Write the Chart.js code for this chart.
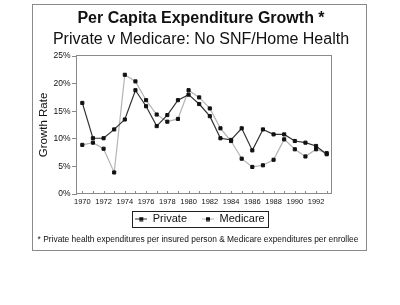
<!DOCTYPE html>
<html>
<head>
<meta charset="utf-8">
<script src="https://cdn.jsdelivr.net/npm/chart.js@4.4.1/dist/chart.umd.min.js"></script>
<style>
html, body { margin: 0; padding: 0; background: #fff; }
#chart { display: block; }
</style>
</head>
<body>
<canvas id="chart" width="400" height="305"></canvas>
<script>
// ===== DATOS =====
const years = ['1970', '1971', '1972', '1973', '1974', '1975', '1976', '1977', '1978', '1979', '1980', '1981',
               '1982', '1983', '1984', '1985', '1986', '1987', '1988', '1989', '1990', '1991', '1992', '1993'];
const privateGrowth = [16.5, 10.1, 10.1, 11.7, 13.5, 18.8, 15.9, 12.3, 14.3, 17.0, 18.0, 16.3,
                       14.1, 10.1, 9.8, 11.9, 7.9, 11.7, 10.8, 10.8, 9.6, 9.3, 8.7, 7.2];
const medicareGrowth = [8.9, 9.3, 8.2, 3.9, 21.6, 20.4, 17.0, 14.4, 13.1, 13.6, 18.8, 17.5,
                        15.5, 11.9, 9.6, 6.4, 4.9, 5.2, 6.2, 9.9, 8.1, 6.8, 8.1, 7.4];
const yTicks = [0, 5, 10, 15, 20, 25];

const titleText = 'Per Capita Expenditure Growth *';
const subtitleText = 'Private v Medicare: No SNF/Home Health';
const footnoteText = '* Private health expenditures per insured person & Medicare expenditures per enrollee';

const FONT = '"Liberation Sans", Arial, Helvetica, sans-serif';
const DARK = '#333333';
const LIGHT = '#b4b4b4';

// marcador de la leyenda: linea corta con cuadrado
function legendMarker(lineColor) {
    const c = document.createElement('canvas');
    c.width = 12; c.height = 5;
    const g = c.getContext('2d');
    g.strokeStyle = lineColor;
    g.lineWidth = 1;
    g.beginPath(); g.moveTo(0, 2.5); g.lineTo(12, 2.5); g.stroke();
    g.fillStyle = '#111';
    g.fillRect(4, 0.5, 4, 4);
    return c;
}
const markers = [legendMarker(DARK), legendMarker(LIGHT)];

// ===== PLUGIN: marco, titulos, nota =====
const decoPlugin = {
    id: 'deco',
    afterLayout(chart) {
        // mover la leyenda para que el texto quede centrado en y=219
        const lg = chart.legend;
        const d = lg.top + 15 + 5.5 - 219;
        lg.top -= d;
        lg.bottom -= d;
    },
    beforeDatasetsDraw(chart) {
        const { ctx, chartArea: a } = chart;
        ctx.save();
        ctx.strokeStyle = '#8a8a8a';
        ctx.lineWidth = 1;
        ctx.strokeRect(Math.round(a.left) - 0.5, Math.round(a.top) - 0.5,
                       Math.round(a.right - a.left), Math.round(a.bottom - a.top));
        // ticks del eje x hacia dentro
        const xs = chart.scales.x;
        ctx.beginPath();
        years.forEach((y, i) => {
            const px = Math.round(xs.getPixelForValue(i)) + 0.5;
            ctx.moveTo(px, a.bottom);
            ctx.lineTo(px, a.bottom - 3);
        });
        ctx.stroke();
        ctx.restore();
    },
    afterDraw(chart) {
        const { ctx } = chart;
        ctx.save();
        // marco exterior
        ctx.strokeStyle = '#8a8a8a';
        ctx.lineWidth = 1;
        ctx.strokeRect(32.5, 4.5, 334, 246);
        // titulos
        ctx.fillStyle = '#111';
        ctx.textAlign = 'center';
        ctx.textBaseline = 'alphabetic';
        ctx.font = 'bold 16px ' + FONT;
        ctx.fillText(titleText, 201, 22.5);
        ctx.font = '16px ' + FONT;
        ctx.fillText(subtitleText, 201, 43.5);
        // nota al pie
        ctx.font = '8.4px ' + FONT;
        ctx.fillText(footnoteText, 198, 242);
        // recuadro de la leyenda
        const hb = chart.legend.legendHitBoxes;
        if (hb && hb.length) {
            const l = Math.min(...hb.map(h => h.left)) - 3;
            const r = Math.max(...hb.map(h => h.left + h.width)) + 4;
            const t = Math.min(...hb.map(h => h.top)) - 2.5;
            const b = Math.max(...hb.map(h => h.top + h.height)) + 2.5;
            ctx.strokeStyle = '#222';
            ctx.strokeRect(Math.round(l) + 0.5, Math.round(t) + 0.5, Math.round(r - l), Math.round(b - t));
        }
        ctx.restore();
    }
};

// ===== CHART =====
const ctx = document.getElementById('chart').getContext('2d');
const chart = new Chart(ctx, {
    type: 'line',
    data: {
        labels: years,
        datasets: [
            { label: 'Private', data: privateGrowth, borderColor: DARK, borderWidth: 1.2,
              pointStyle: 'rect', pointRadius: 2.2, pointBorderWidth: 1,
              pointBackgroundColor: '#111', pointBorderColor: '#111', tension: 0 },
            { label: 'Medicare', data: medicareGrowth, borderColor: LIGHT, borderWidth: 1.2,
              pointStyle: 'rect', pointRadius: 2.2, pointBorderWidth: 1,
              pointBackgroundColor: '#111', pointBorderColor: '#111', tension: 0 }
        ]
    },
    options: {
        responsive: false,
        animation: false,
        layout: { padding: { left: 33, right: 33, top: 56, bottom: 60 } },
        plugins: {
            title: { display: false },
            tooltip: { enabled: false },
            legend: {
                position: 'bottom',
                labels: {
                    usePointStyle: true,
                    pointStyleWidth: 12,
                    padding: 15,
                    color: '#111',
                    font: { family: FONT, size: 11 },
                    generateLabels(ch) {
                        const items = Chart.defaults.plugins.legend.labels.generateLabels(ch);
                        items.forEach((it, i) => { it.pointStyle = markers[i]; });
                        return items;
                    }
                }
            }
        },
        scales: {
            x: {
                offset: true,
                grid: { display: false, drawTicks: false },
                border: { display: false },
                ticks: {
                    autoSkip: false,
                    maxRotation: 0,
                    padding: 3,
                    color: '#111',
                    font: { family: FONT, size: 7.5 },
                    callback: (v, i) => (i % 2 === 0 ? years[i] : '')
                }
            },
            y: {
                min: yTicks[0],
                max: yTicks[yTicks.length - 1],
                afterBuildTicks: s => { s.ticks = yTicks.map(v => ({ value: v })); },
                grid: { drawOnChartArea: false, drawTicks: true, tickLength: 5, color: '#8a8a8a' },
                border: { display: false },
                ticks: {
                    padding: 1.5,
                    color: '#111',
                    font: { family: FONT, size: 8.5 },
                    callback: v => v + '%'
                },
                title: {
                    display: true,
                    text: 'Growth Rate',
                    color: '#111',
                    padding: { top: 4, bottom: 0 },
                    font: { family: FONT, size: 11.5 }
                },
                afterFit: s => { s.width = 44; }
            },
            yPad: {
                type: 'linear',
                position: 'right',
                display: true,
                grid: { display: false },
                border: { display: false },
                ticks: { display: false },
                afterFit: s => { s.width = 35; }
            }
        }
    },
    plugins: [decoPlugin]
});
</script>
</body>
</html>
